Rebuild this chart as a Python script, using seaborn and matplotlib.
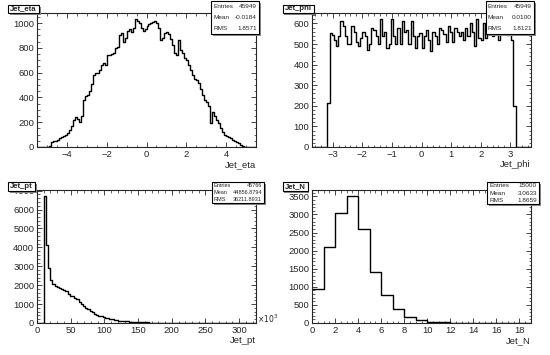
import numpy as np
import pandas as pd
import matplotlib
matplotlib.use("Agg")
import matplotlib.pyplot as plt
import seaborn as sns
from matplotlib.ticker import MultipleLocator, AutoMinorLocator
from matplotlib.patches import Rectangle

# ---- data ----
eta_range = (-5.5, 5.5)
eta_first = -4.9  # first filled bin edge, bin width 0.1
eta_counts = [10, 40, 45, 50, 55, 70, 80, 90, 100, 110,
              140, 170, 220, 245, 230, 200, 250, 380, 410, 420,
              450, 510, 580, 595, 600, 620, 660, 680, 665, 740,
              745, 750, 760, 800, 810, 900, 920, 850, 880, 940,
              950, 930, 960, 1030, 1020, 1000, 960, 940, 950,
              980, 990, 1000, 1010, 1020, 1000, 960, 860, 880, 920,
              930, 910, 870, 820, 760, 740, 860, 780, 760, 720,
              700, 660, 620, 580, 550, 540, 520, 470, 420, 380,
              360, 330, 190, 280, 250, 220, 190, 150, 120, 100,
              90, 80, 70, 60, 50, 40, 30, 20, 5]

phi_range = (-3.7, 3.7)  # 100 bins
phi_counts = [0] * 7 + [215,
              555, 545, 520, 490, 540, 610, 590, 540, 500, 500,
              590, 560, 510, 490, 530, 560, 540, 470, 500, 580,
              570, 540, 500, 620, 540, 560, 480, 500, 620, 540,
              500, 580, 500, 610, 560, 570, 500, 610, 540, 480,
              540, 555, 480, 540, 570, 520, 465, 560, 540, 500,
              580, 570, 550, 510, 590, 560, 510, 580, 560, 540,
              560, 520, 580, 540, 600, 560, 490, 620, 530, 520,
              600, 530, 580, 590, 540, 560, 600, 520, 560, 575,
              590, 545, 570, 520,
              200] + [0] * 7

pt_range = (0, 325)  # x10^3, 100 bins
pt_counts = [0, 0, 0, 6700, 4150, 2900, 2250, 2050, 1950, 1880,
             1850, 1820, 1760, 1700, 1560, 1450, 1420, 1330, 1250, 1120,
             980, 900, 800, 720, 630, 560, 500, 440, 390, 350,
             310, 280, 250, 220, 190, 170, 150, 130, 115, 100,
             90, 80, 70, 62, 55, 50, 44, 40, 36, 32,
             28, 25, 22, 20, 18, 16, 14, 12, 11, 10,
             9, 8, 7, 6, 5, 5, 4, 4, 3, 3,
             2, 2, 2, 1, 1, 1, 1, 0, 0, 0,
             0, 0, 0, 0, 0, 0, 0, 0, 0, 0,
             0, 0, 0, 0, 0, 0, 0, 0, 0, 0]

n_range = (0, 19)
n_counts = [950, 2100, 3030, 3500, 2600, 1400, 760, 390, 160, 80,
            35, 15, 6, 3, 1, 0, 0, 0, 0]

stats = {
    "Jet_eta": [("Entries", "45949"), ("Mean", "-0.0184"), ("RMS", "1.8571")],
    "Jet_phi": [("Entries", "45949"), ("Mean", "0.0100"), ("RMS", "1.8121")],
    "Jet_pt": [("Entries", "45766"), ("Mean", "44856.8794"), ("RMS", "36211.8931")],
    "Jet_N": [("Entries", "15000"), ("Mean", "3.0633"), ("RMS", "1.8659")],
}

sns.set_style("ticks")
plt.rcParams["font.family"] = ["Liberation Sans", "DejaVu Sans"]

W, H = 550, 355
fig = plt.figure(figsize=(W / 100, H / 100), dpi=100)


def fx(px):
    return px / W


def fy(py):
    return 1 - py / H


def draw_box(x0, y0, x1, y1, shadow=2):
    # ROOT style box with grey drop shadow, pixel coords
    fig.patches.append(Rectangle((fx(x0 + shadow), fy(y1 + shadow)), fx(x1 - x0), (y1 - y0) / H,
                                 transform=fig.transFigure, facecolor="#888888", edgecolor="none", zorder=5))
    fig.patches.append(Rectangle((fx(x0), fy(y1)), fx(x1 - x0), (y1 - y0) / H,
                                 transform=fig.transFigure, facecolor="white", edgecolor="black",
                                 linewidth=0.8, zorder=6))


def panel(name, counts, edges, box, title_box, stat_box, xmajor, xminor, ymajor, yminor, stat_fs=4.6):
    left, top, right, bottom = box
    ax = fig.add_axes([fx(left), fy(bottom), fx(right - left), (bottom - top) / H])
    centers = (edges[:-1] + edges[1:]) / 2
    df = pd.DataFrame({"x": centers, "w": np.asarray(counts, float)})
    sns.histplot(data=df, x="x", weights="w", bins=list(edges), element="step", fill=False,
                 color="black", linewidth=1.0, ax=ax)
    ax.set_xlim(edges[0], edges[-1])
    ax.set_ylim(0, max(counts) * 1.05)
    ax.set_ylabel("")
    ax.set_xlabel(name, loc="right", fontsize=6.8, labelpad=1)
    ax.xaxis.set_major_locator(MultipleLocator(xmajor))
    ax.xaxis.set_minor_locator(AutoMinorLocator(xminor))
    ax.yaxis.set_major_locator(MultipleLocator(ymajor))
    ax.yaxis.set_minor_locator(AutoMinorLocator(yminor))
    ax.tick_params(which="both", direction="in", top=True, right=True, labelsize=6.8, pad=2)
    ax.tick_params(which="major", length=3.5, width=0.6)
    ax.tick_params(which="minor", length=1.8, width=0.5)
    for s in ax.spines.values():
        s.set_linewidth(0.8)
        s.set_visible(True)

    # title box
    tx0, ty0, tx1, ty1 = title_box
    draw_box(tx0, ty0, tx1, ty1, shadow=1.5)
    fig.text(fx((tx0 + tx1) / 2), fy((ty0 + ty1) / 2), name, ha="center", va="center",
             fontsize=5.6, fontweight="bold", zorder=7)

    # stats box
    sx0, sy0, sx1, sy1 = stat_box
    draw_box(sx0, sy0, sx1, sy1, shadow=2)
    rows = stats[name]
    h = (sy1 - sy0) / len(rows)
    for i, (k, v) in enumerate(rows):
        yc = sy0 + h * (i + 0.5)
        fig.text(fx(sx0 + 2), fy(yc), k, ha="left", va="center", fontsize=stat_fs, zorder=7)
        fig.text(fx(sx1 - 2), fy(yc), v, ha="right", va="center", fontsize=stat_fs, zorder=7)
    return ax


eta_edges = np.round(np.arange(eta_range[0], eta_range[1] + 1e-9, 0.1), 3)
eta_full = np.zeros(len(eta_edges) - 1)
start = int(round((eta_first - eta_range[0]) / 0.1))
eta_full[start:start + len(eta_counts)] = eta_counts

phi_edges = np.linspace(phi_range[0], phi_range[1], len(phi_counts) + 1)
pt_edges = np.linspace(pt_range[0], pt_range[1], len(pt_counts) + 1)
n_edges = np.linspace(n_range[0], n_range[1], len(n_counts) + 1)

panel("Jet_eta", eta_full, eta_edges, (37, 13, 256, 147), (8, 5, 39, 13), (211, 1, 259, 34),
      2, 4, 200, 4)
panel("Jet_phi", phi_counts, phi_edges, (312, 13, 531, 147), (283, 5, 314, 13),
      (486, 1, 534, 34), 1, 5, 100, 5)
ax_pt = panel("Jet_pt", pt_counts, pt_edges, (37, 190, 256, 323), (8, 182, 35, 191),
              (212, 182, 264, 203), 50, 5, 1000, 5, stat_fs=4.0)
ax_pt.text(1.005, 0.03, r"$\times10^{3}$", transform=ax_pt.transAxes, fontsize=5.5, ha="left", va="center")
panel("Jet_N", n_counts, n_edges, (312, 190, 531, 323), (283, 182, 308, 191),
      (487, 182, 539, 204), 2, 4, 500, 5)

fig.savefig("out.png", dpi=100)
